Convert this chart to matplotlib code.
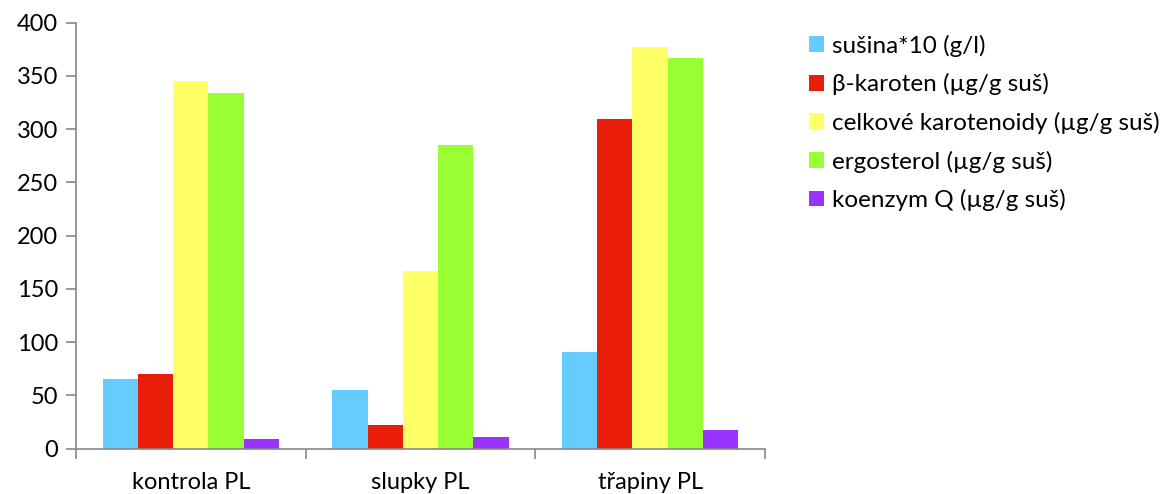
import matplotlib.pyplot as plt
import numpy as np

plt.rcParams['font.family'] = ['Lato', 'DejaVu Sans']

groups = ['kontrola PL', 'slupky PL', 'třapiny PL']
series = ['sušina*10 (g/l)', 'β-karoten (µg/g suš)', 'celkové karotenoidy (µg/g suš)',
          'ergosterol (µg/g suš)', 'koenzym Q (µg/g suš)']
colors = ['#66CCFF', '#E81E0A', '#FFFF66', '#99FF33', '#9933FF']

susina = [65.5, 55, 91]
beta_karoten = [70, 22, 310]
karotenoidy = [345.5, 167, 377]
ergosterol = [334, 285, 367]
koenzym_q = [9.5, 11, 17.5]
values = [susina, beta_karoten, karotenoidy, ergosterol, koenzym_q]

fig = plt.figure(figsize=(11.66, 4.94), dpi=100)
ax = fig.add_axes([0.0652, 0.0917, 0.5908, 0.8623])

x = np.arange(len(groups))
width = 0.1535
for i, (vals, name, col) in enumerate(zip(values, series, colors)):
    ax.bar(x + (i - 2) * width, vals, width, color=col, label=name)

ax.set_xlim(-0.5, 2.5)
ax.set_ylim(0, 400)
ax.set_yticks(np.arange(0, 401, 50))

ax.set_xticks(x)
ax.set_xticklabels(groups)
ax.set_xticks(np.arange(-0.5, 3, 1), minor=True)
ax.tick_params(axis='x', which='major', length=0, pad=17, labelsize=17)
ax.tick_params(axis='x', which='minor', length=7, width=1.2, color='#888888')
ax.tick_params(axis='y', length=7, width=1.2, color='#888888', labelsize=17, pad=6)

for side in ['top', 'right']:
    ax.spines[side].set_visible(False)
for side in ['left', 'bottom']:
    ax.spines[side].set_color('#888888')
    ax.spines[side].set_linewidth(1.2)

ax.legend(loc='upper left', bbox_to_anchor=(0.694, 0.93), bbox_transform=fig.transFigure,
          frameon=False, fontsize=17.5, handlelength=0.62, handleheight=0.62,
          handletextpad=0.3, labelspacing=0.68, borderaxespad=0, borderpad=0)

fig.savefig('out.png', dpi=100)
